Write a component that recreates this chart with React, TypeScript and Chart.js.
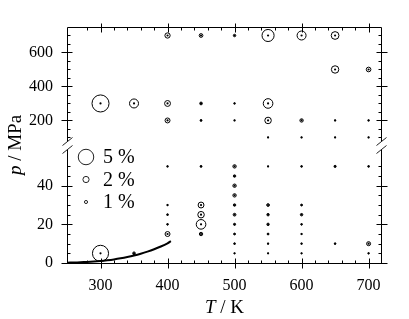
import React, { useEffect, useRef } from 'react';
import { Chart, registerables } from 'chart.js';

Chart.register(...registerables);

// Axis ranges
const T_MIN = 250;
const T_MAX = 720;
const P_UP_MIN = 32;
const P_UP_MAX = 750;
const P_UP_BREAK = 80;
const P_LO_MIN = 0;
const P_LO_MAX = 59;

// Upper panel (high pressure) data: T / K, p / MPa, deviation / %
const upperT = [400, 450, 500, 550, 600, 650, 650, 700, 300, 350, 400, 450, 500, 550, 400, 450, 500, 550, 600, 650, 700, 550, 600, 650, 700];
const upperP = [700, 700, 700, 700, 700, 700, 500, 500, 300, 300, 300, 300, 300, 300, 200, 200, 200, 200, 200, 200, 200, 100, 100, 100, 100];
const upperDev = [1.7, 1.2, 0.8, 3.9, 2.9, 2.5, 2.4, 1.5, 5.5, 2.9, 1.9, 0.9, 0.4, 3.1, 1.6, 0.6, 0.3, 2.1, 1.1, 0.4, 0.4, 0.3, 0.3, 0.3, 0.3];

// Lower panel (low pressure) data
const lowerT = [
  400, 450, 500, 550, 600, 650, 700,
  500, 500, 500, 500, 500, 500, 500, 500, 500,
  400, 400, 400, 400,
  450, 450, 450, 450,
  550, 550, 550, 550, 550, 550,
  600, 600, 600, 600, 600, 600,
  650,
  700, 700,
  300,
  350,
];
const lowerP = [
  50, 50, 50, 50, 50, 50, 50,
  45, 40, 35, 30, 25, 20, 15, 10, 5,
  30, 25, 20, 15,
  30, 25, 20, 15,
  30, 25, 20, 15, 10, 5,
  30, 25, 20, 15, 10, 5,
  10,
  10, 5,
  5,
  5,
];
const lowerDev = [
  0.4, 0.6, 1.1, 0.3, 0.5, 0.7, 0.5,
  0.8, 1.1, 1.1, 0.8, 0.9, 0.7, 0.6, 0.5, 0.3,
  0.4, 0.5, 0.5, 1.6,
  1.9, 2.1, 3.1, 1.1,
  0.9, 0.8, 0.8, 0.6, 0.4, 0.3,
  0.6, 0.8, 0.5, 0.4, 0.4, 0.3,
  0.5,
  1.3, 0.4,
  5.2,
  0.9,
];

// Vapour-pressure curve
const curveT = [250, 260, 270, 280, 290, 300, 310, 320, 330, 340, 350, 360, 370, 380, 390, 400, 405];
const curveP = [0.17, 0.26, 0.38, 0.55, 0.77, 1.06, 1.43, 1.87, 2.42, 3.08, 3.86, 4.79, 5.87, 7.12, 8.55, 10.2, 11.3];

// Legend
const legendPct = [5, 2, 1];
const legendLabels = ['5 %', '2 %', '1 %'];

const PX_PER_PCT = 1.55;
const FONT = '"Liberation Serif", "Times New Roman", serif';

const isMult = (v: number, m: number) => {
  const r = v / m;
  return Math.abs(r - Math.round(r)) < 1e-6;
};

const framePlugin = {
  id: 'frame',
  afterDraw(chart: any) {
    const ctx = chart.ctx as CanvasRenderingContext2D;
    const { left, right, top, bottom } = chart.chartArea;
    const xs = chart.scales.x;
    const yu = chart.scales.yUp;
    const yl = chart.scales.y;
    const gapTop = Math.round(yu.getPixelForValue(P_UP_BREAK)) + 0.5;
    const gapBot = Math.round(yl.top) + 0.5;
    const L = Math.round(left) + 0.5;
    const R = Math.round(right) - 0.5;
    const T = Math.round(top) + 0.5;
    const B = Math.round(bottom) + 0.5;

    ctx.save();
    ctx.strokeStyle = '#000';
    ctx.lineWidth = 1;
    ctx.beginPath();
    // top & bottom
    ctx.moveTo(L, T); ctx.lineTo(R, T);
    ctx.moveTo(L, B); ctx.lineTo(R, B);
    // left & right broken
    ctx.moveTo(L, T); ctx.lineTo(L, gapTop);
    ctx.moveTo(L, gapBot); ctx.lineTo(L, B);
    ctx.moveTo(R, T); ctx.lineTo(R, gapTop);
    ctx.moveTo(R, gapBot); ctx.lineTo(R, B);

    // x ticks
    xs.ticks.forEach((t: any) => {
      const v = t.value;
      if (v <= T_MIN || v >= T_MAX) return;
      const px = Math.round(xs.getPixelForValue(v)) + 0.5;
      if (isMult(v, 100)) {
        ctx.moveTo(px, B + 5); ctx.lineTo(px, B - 5);
        ctx.moveTo(px, T - 4); ctx.lineTo(px, T + 5);
      } else {
        ctx.moveTo(px, B); ctx.lineTo(px, B - 3);
        ctx.moveTo(px, T); ctx.lineTo(px, T + 3);
      }
    });
    // upper y ticks
    yu.ticks.forEach((t: any) => {
      const v = t.value;
      if (v < 100 || v >= P_UP_MAX || !isMult(v, 50)) return;
      const py = Math.round(yu.getPixelForValue(v)) + 0.5;
      if (isMult(v, 200)) {
        ctx.moveTo(L - 6, py); ctx.lineTo(L + 5, py);
        ctx.moveTo(R - 5, py); ctx.lineTo(R + 6, py);
      } else {
        ctx.moveTo(L, py); ctx.lineTo(L + 3, py);
        ctx.moveTo(R, py); ctx.lineTo(R - 3, py);
      }
    });
    // lower y ticks
    yl.ticks.forEach((t: any) => {
      const v = t.value;
      if (v < 0 || v >= P_LO_MAX || !isMult(v, 5)) return;
      const py = Math.round(yl.getPixelForValue(v)) + 0.5;
      if (isMult(v, 20)) {
        ctx.moveTo(L - 6, py); ctx.lineTo(L + 5, py);
        ctx.moveTo(R - 5, py); ctx.lineTo(R + 6, py);
      } else {
        ctx.moveTo(L, py); ctx.lineTo(L + 3, py);
        ctx.moveTo(R, py); ctx.lineTo(R - 3, py);
      }
    });
    ctx.stroke();

    // break marks
    ctx.beginPath();
    ctx.strokeStyle = '#222';
    [L, R].forEach((x) => {
      [gapTop, gapBot].forEach((y) => {
        ctx.moveTo(x - 5, y + 4);
        ctx.lineTo(x + 5, y - 4);
      });
    });
    ctx.stroke();

    // axis titles
    ctx.fillStyle = '#000';
    ctx.textBaseline = 'alphabetic';
    ctx.textAlign = 'left';
    const italic = `italic 19px ${FONT}`;
    const normal = `19px ${FONT}`;
    // x title
    ctx.font = italic;
    const wT = ctx.measureText('T').width;
    ctx.font = normal;
    const wK = ctx.measureText(' / K').width;
    const cx = (left + right) / 2;
    let x0 = cx - (wT + wK) / 2;
    ctx.font = italic;
    ctx.fillText('T', x0, 313);
    ctx.font = normal;
    ctx.fillText(' / K', x0 + wT, 313);
    // y title
    ctx.save();
    ctx.translate(21, (top + bottom) / 2);
    ctx.rotate(-Math.PI / 2);
    ctx.font = italic;
    const wp = ctx.measureText('p').width;
    ctx.font = normal;
    const wM = ctx.measureText(' / MPa').width;
    x0 = -(wp + wM) / 2;
    ctx.font = italic;
    ctx.fillText('p', x0, 0);
    ctx.font = normal;
    ctx.fillText(' / MPa', x0 + wp, 0);
    ctx.restore();

    // legend
    const lx = left + 19;
    const ly0 = yl.top + 8;
    ctx.font = `20px ${FONT}`;
    ctx.textBaseline = 'middle';
    legendPct.forEach((pct, i) => {
      const y = ly0 + i * 22.5;
      ctx.beginPath();
      ctx.arc(lx, y, pct * PX_PER_PCT, 0, Math.PI * 2);
      ctx.stroke();
      ctx.fillText(legendLabels[i], lx + 17, y + 1);
    });
    ctx.restore();
  },
};

export default function App() {
  const ref = useRef<HTMLCanvasElement>(null);
  useEffect(() => {
    const ptsUp = upperT.map((t, i) => ({ x: t, y: upperP[i] }));
    const ptsLo = lowerT.map((t, i) => ({ x: t, y: lowerP[i] }));
    const curve = curveT.map((t, i) => ({ x: t, y: curveP[i] }));
    const tickFont = { family: FONT, size: 16 };

    const chart = new Chart(ref.current as HTMLCanvasElement, {
      type: 'scatter',
      data: {
        datasets: [
          {
            data: curve,
            yAxisID: 'y',
            showLine: true,
            borderColor: '#000',
            borderWidth: 2,
            pointRadius: 0,
            tension: 0.3,
          } as any,
          {
            data: ptsUp,
            yAxisID: 'yUp',
            pointRadius: upperDev.map((d) => d * PX_PER_PCT),
            pointBorderWidth: 1,
            pointBorderColor: '#000',
            pointBackgroundColor: 'rgba(0,0,0,0)',
          },
          {
            data: ptsUp,
            yAxisID: 'yUp',
            pointRadius: 1.1,
            pointBorderWidth: 0,
            pointBackgroundColor: '#000',
          },
          {
            data: ptsLo,
            yAxisID: 'y',
            pointRadius: lowerDev.map((d) => d * PX_PER_PCT),
            pointBorderWidth: 1,
            pointBorderColor: '#000',
            pointBackgroundColor: 'rgba(0,0,0,0)',
          },
          {
            data: ptsLo,
            yAxisID: 'y',
            pointRadius: 1.1,
            pointBorderWidth: 0,
            pointBackgroundColor: '#000',
          },
        ],
      },
      options: {
        responsive: false,
        animation: false,
        events: [],
        layout: { padding: { left: 0, top: 27, right: 27, bottom: 0 } },
        plugins: { legend: { display: false }, tooltip: { enabled: false } },
        scales: {
          x: {
            type: 'linear',
            position: 'bottom',
            min: T_MIN,
            max: T_MAX,
            grid: { display: false, drawTicks: false },
            border: { display: false },
            ticks: {
              stepSize: 20,
              autoSkip: false,
              maxRotation: 0,
              padding: 13,
              color: '#000',
              font: tickFont,
              callback: (v: any) => (isMult(Number(v), 100) ? String(v) : ''),
            },
            afterFit: (s: any) => { s.height = 56; },
          },
          y: {
            type: 'linear',
            position: 'left',
            stack: 'p',
            stackWeight: 114,
            weight: 0,
            min: P_LO_MIN,
            max: P_LO_MAX,
            grid: { display: false, drawTicks: false },
            border: { display: false },
            ticks: {
              stepSize: 5,
              autoSkip: false,
              padding: 14,
              color: '#000',
              font: tickFont,
              callback: (v: any) => (isMult(Number(v), 20) ? String(v) : ''),
            },
            afterFit: (s: any) => { s.width = 67; },
          },
          yUp: {
            type: 'linear',
            position: 'left',
            stack: 'p',
            stackWeight: 122,
            weight: 1,
            min: P_UP_MIN,
            max: P_UP_MAX,
            grid: { display: false, drawTicks: false },
            border: { display: false },
            ticks: {
              stepSize: 50,
              autoSkip: false,
              padding: 14,
              color: '#000',
              font: tickFont,
              callback: (v: any) => (isMult(Number(v), 200) ? String(v) : ''),
            },
            afterFit: (s: any) => { s.width = 67; },
          },
        },
      } as any,
      plugins: [framePlugin],
    });
    return () => chart.destroy();
  }, []);

  return (
    <div style={{ position: 'fixed', left: 0, top: 0, width: 409, height: 319, background: '#fff' }}>
      <canvas ref={ref} width={409} height={319} style={{ display: 'block', width: 409, height: 319 }} />
    </div>
  );
}
